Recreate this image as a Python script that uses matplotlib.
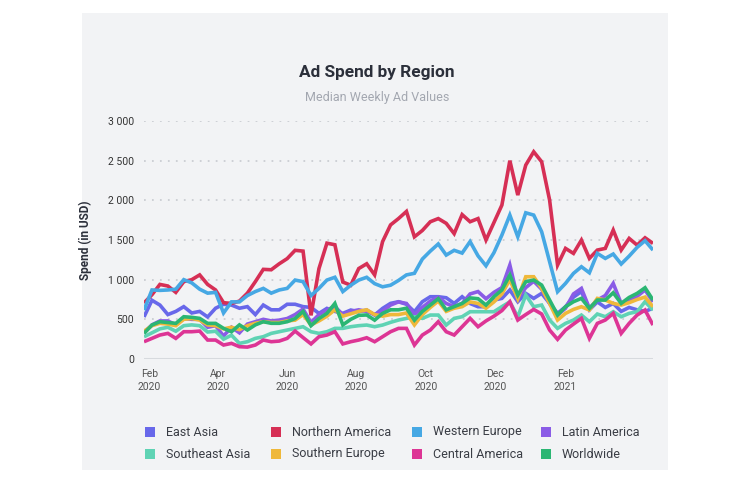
import matplotlib
matplotlib.use("Agg")
import matplotlib.pyplot as plt
from matplotlib.patches import Rectangle
import pandas as pd

plt.rcParams['font.family'] = ['Roboto', 'DejaVu Sans']

# ---------------- data ----------------
start_date = "2020-01-27"
n_weeks = 65

east_asia = [530, 740, 680, 560, 600, 660, 580, 600, 530, 640, 690, 680, 640, 660, 560, 680, 620, 620, 690, 690,
             660, 650, 575, 638, 600, 575, 617, 596, 617, 554, 638, 701, 722, 690, 596, 722, 785, 785, 772, 701,
             785, 700, 659, 659, 743, 764, 870, 722, 827, 764, 827, 701, 575, 659, 780, 850, 620, 720, 650, 700,
             600, 650, 620, 600, 640]
northern_america = [706, 810, 940, 920, 840, 975, 1000, 1060, 940, 870, 710, 700, 730, 830, 975, 1130, 1125, 1200, 1265, 1370,
                    1360, 550, 1140, 1460, 1440, 970, 930, 1140, 1200, 1060, 1480, 1690, 1770, 1860, 1540, 1620, 1730, 1770, 1710, 1580,
                    1820, 1730, 1770, 1500, 1720, 1940, 2500, 2066, 2444, 2612, 2486, 2003, 1184, 1394, 1331, 1499, 1268, 1373, 1394, 1625,
                    1373, 1520, 1436, 1528, 1457]
western_europe = [617, 870, 865, 870, 880, 1000, 960, 880, 830, 840, 580, 720, 720, 800, 850, 890, 830, 870, 890, 995,
                  975, 800, 890, 995, 1030, 850, 930, 995, 1030, 950, 910, 930, 990, 1060, 1080, 1260, 1360, 1450, 1310, 1370,
                  1335, 1480, 1300, 1175, 1340, 1562, 1814, 1541, 1843, 1814, 1604, 1226, 848, 953, 1079, 1163, 1087, 1331, 1268, 1323,
                  1197, 1297, 1407, 1491, 1373]
latin_america = [330, 430, 480, 480, 430, 510, 500, 500, 400, 420, 290, 400, 330, 440, 470, 500, 480, 490, 510, 560,
                 630, 460, 560, 620, 660, 560, 600, 620, 600, 560, 600, 680, 720, 700, 560, 650, 730, 780, 700, 660,
                 700, 820, 850, 760, 840, 900, 1184, 764, 900, 980, 880, 700, 554, 640, 820, 890, 640, 743, 800, 953,
                 700, 740, 790, 870, 720]
southeast_asia = [280, 330, 380, 400, 350, 420, 430, 420, 340, 350, 250, 300, 197, 218, 260, 281, 323, 344, 365, 386,
                  407, 344, 323, 344, 386, 386, 407, 420, 428, 407, 428, 462, 491, 512, 533, 512, 554, 554, 428, 512,
                  533, 596, 596, 596, 596, 660, 720, 530, 806, 659, 680, 491, 386, 449, 491, 554, 470, 567, 533, 596,
                  533, 575, 596, 722, 617]
southern_europe = [350, 420, 450, 440, 420, 500, 510, 490, 430, 420, 380, 400, 370, 420, 450, 470, 460, 460, 480, 490,
                   560, 430, 480, 540, 620, 540, 570, 600, 620, 560, 540, 560, 560, 580, 430, 560, 650, 730, 600, 640,
                   660, 720, 700, 640, 720, 820, 1000, 760, 1037, 1037, 890, 701, 491, 575, 625, 659, 617, 764, 743, 701,
                   680, 710, 750, 780, 659]
central_america = [218, 260, 302, 323, 260, 344, 344, 352, 239, 239, 176, 197, 155, 150, 176, 239, 218, 226, 260, 352,
                   270, 190, 281, 302, 344, 190, 218, 239, 268, 218, 281, 344, 386, 386, 176, 302, 365, 470, 344, 302,
                   407, 512, 407, 480, 540, 610, 722, 491, 560, 625, 567, 365, 248, 365, 440, 512, 260, 449, 491, 575,
                   323, 449, 554, 617, 428]
worldwide = [323, 428, 470, 460, 449, 533, 525, 512, 449, 449, 386, 344, 430, 365, 430, 470, 450, 450, 470, 510,
             600, 420, 510, 575, 700, 430, 500, 550, 555, 490, 575, 620, 620, 640, 490, 600, 680, 760, 620, 660,
             700, 770, 760, 680, 785, 870, 1058, 806, 974, 995, 932, 743, 554, 659, 722, 764, 638, 743, 743, 835,
             701, 776, 827, 898, 743]

series_names = ["East Asia", "Northern America", "Western Europe", "Latin America",
                "Southeast Asia", "Southern Europe", "Central America", "Worldwide"]
series_values = [east_asia, northern_america, western_europe, latin_america,
                 southeast_asia, southern_europe, central_america, worldwide]
series_colors = ["#6868ea", "#d62f55", "#46a8e4", "#8a5ce6",
                 "#5fd3b4", "#efb83a", "#dd3595", "#2bb673"]

y_ticks = [0, 500, 1000, 1500, 2000, 2500, 3000]
y_tick_labels = ["0", "500", "1 000", "1 500", "2 000", "2 500", "3 000"]
x_tick_dates = ["2020-02-01", "2020-04-01", "2020-06-01", "2020-08-01",
                "2020-10-01", "2020-12-01", "2021-02-01"]
x_tick_labels = ["Feb\n2020", "Apr\n2020", "Jun\n2020", "Aug\n2020",
                 "Oct\n2020", "Dec\n2020", "Feb\n2021"]

dates = pd.date_range(start_date, periods=n_weeks, freq="7D")

# ---------------- figure ----------------
W, H = 750, 484
fig = plt.figure(figsize=(W / 100, H / 100), dpi=100)
fig.patch.set_facecolor("white")

def fx(px):
    return px / W

def fy(py):
    return 1 - py / H

# grey card
fig.add_artist(Rectangle((fx(82), fy(470)), fx(668) - fx(82), fy(13) - fy(470),
                         transform=fig.transFigure, facecolor="#f2f3f5", edgecolor="none", zorder=0))

ax_l, ax_r, ax_t, ax_b = 144, 653, 121, 359
ax = fig.add_axes([fx(ax_l), fy(ax_b), fx(ax_r) - fx(ax_l), fy(ax_t) - fy(ax_b)])
ax.set_facecolor("none")

for name, vals, col in zip(series_names, series_values, series_colors):
    ax.plot(dates, vals, color=col, lw=2.6, solid_joinstyle="miter", solid_capstyle="butt", zorder=3, label=name)

ax.set_xlim(dates[0], dates[-1])
ax.set_ylim(0, 3000)
ax.set_yticks(y_ticks)
ax.set_yticklabels(y_tick_labels)
ax.set_xticks(pd.to_datetime(x_tick_dates))
ax.set_xticklabels(x_tick_labels, linespacing=1.45)

for v in y_ticks[1:]:
    ax.axhline(v, color="#cdd0d5", lw=1.4, dashes=(0.9, 3.2), zorder=1)
ax.axhline(0, color="#d7dade", lw=2.2, zorder=2)

for s in ax.spines.values():
    s.set_visible(False)
ax.tick_params(axis="both", length=0, labelsize=7.5, colors="#333333")
ax.tick_params(axis="y", pad=7)
ax.tick_params(axis="x", pad=7, labelcolor="#555555")

ax.set_ylabel("Spend (in USD)", fontsize=8.5, fontweight="bold", color="#2b2f3a")
ax.yaxis.set_label_coords((92 - ax_l) / (ax_r - ax_l), 0.5)

# title & subtitle
fig.text(fx(377), fy(72), "Ad Spend by Region", ha="center", va="center",
         fontsize=12.4, fontweight="bold", color="#2b2f3a")
fig.text(fx(377), fy(97), "Median Weekly Ad Values", ha="center", va="center",
         fontsize=9, color="#a3a7b0")

# legend (manual, 2 rows x 4 cols)
col_x = [150, 276, 417, 546]
row_y = [432, 454]
sq = 10
for k, (name, col) in enumerate(zip(series_names, series_colors)):
    r, c = divmod(k, 4)
    x0, y0 = col_x[c], row_y[r]
    fig.add_artist(Rectangle((fx(x0 - sq / 2), fy(y0 + sq / 2)), fx(sq), sq / H,
                             transform=fig.transFigure, facecolor=col, edgecolor="none"))
    fig.text(fx(x0 + 16), fy(y0), name, ha="left", va="center", fontsize=9, color="#3a3d45")

fig.savefig("out.png", dpi=100, facecolor="white")
